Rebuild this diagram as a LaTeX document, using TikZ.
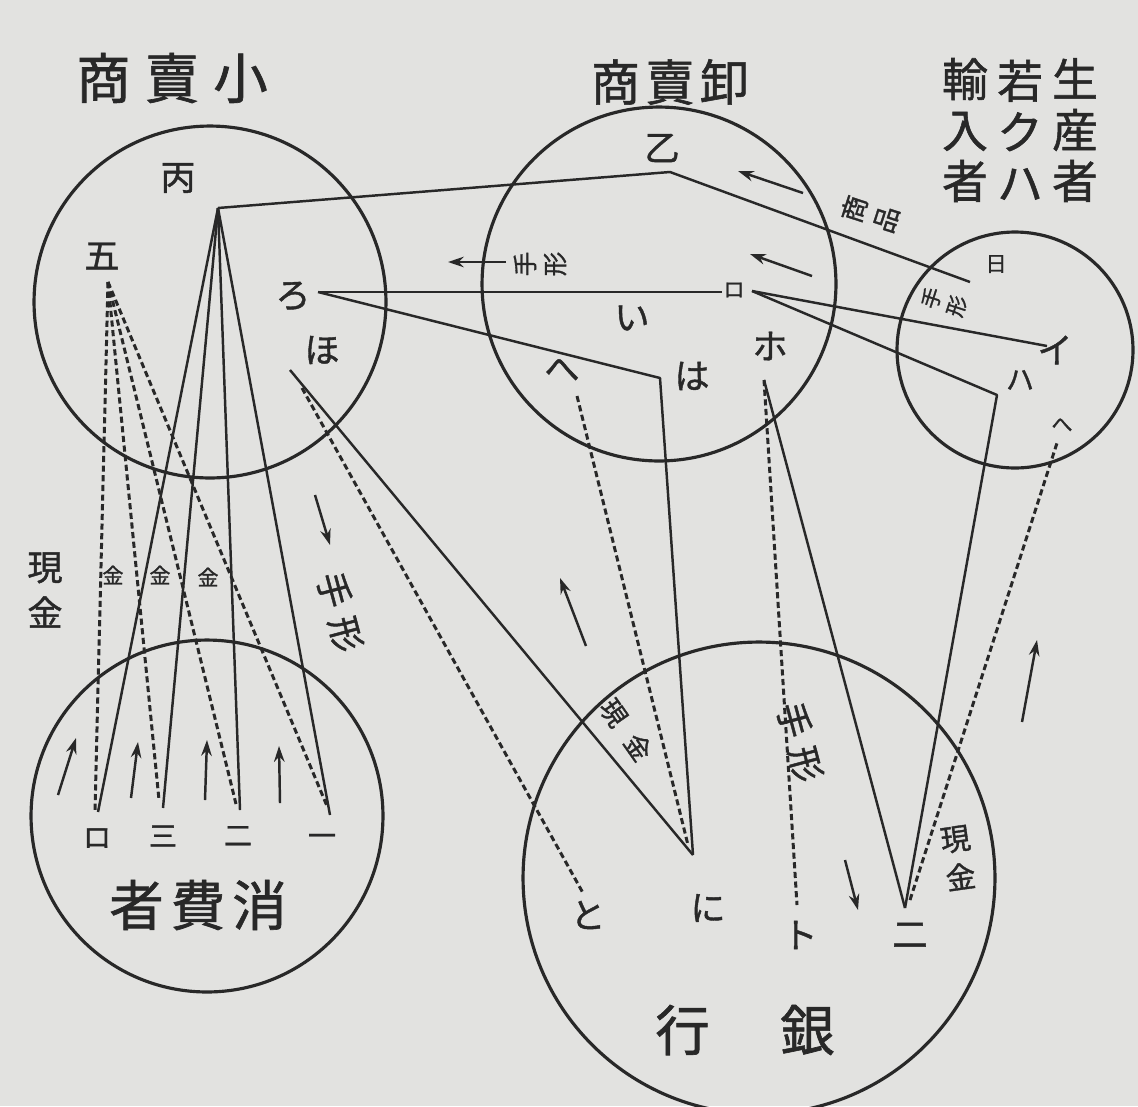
\documentclass[tikz,border=0pt]{standalone}
\usepackage{fontspec}
\newfontfamily\jp{Noto Sans CJK JP}[FakeBold=1.2]
\usetikzlibrary{arrows.meta}
\definecolor{ink}{RGB}{40,40,40}
\definecolor{paper}{RGB}{226,226,224}
\begin{document}
\begin{tikzpicture}[x=0.02cm,y=-0.02cm,
  ring/.style={draw=ink, line width=1.8pt, circle, inner sep=0pt},
  flow/.style={draw=ink, line width=1.4pt, line join=round},
  dotline/.style={draw=ink, line width=1.7pt, dash pattern=on 3.5pt off 2pt},
  arr/.style={draw=ink, line width=1.4pt, -{Stealth[length=9pt,width=6pt]}},
  title/.style={font=\jp\fontsize{31}{31}\selectfont, text=ink, inner sep=0pt},
  lbl/.style={font=\jp\fontsize{20}{20}\selectfont, text=ink, inner sep=0pt},
  smalllbl/.style={font=\jp\fontsize{12}{12}\selectfont, text=ink, inner sep=0pt},
  midlbl/.style={font=\jp\fontsize{16}{16}\selectfont, text=ink, inner sep=0pt},
]
\fill[paper] (0,0) rectangle (1138,1106);
\useasboundingbox (0,0) rectangle (1138,1106);

% circles
\node[ring, minimum size=7.04cm] (retail) at (210,302) {};
\node[ring, minimum size=7.08cm] (whole) at (659,284) {};
\node[ring, minimum size=4.72cm] (prod) at (1015,350) {};
\node[ring, minimum size=7.04cm] (cons) at (207,816) {};
\node[ring, minimum size=9.44cm] (bank) at (759,878) {};

% titles
\node[title] (t1) at (172,78) {商\hspace{8pt}賣\hspace{8pt}小};
\node[title, font=\jp\fontsize{28}{28}\selectfont] (t2) at (670,82) {商\hspace{3pt}賣\hspace{3pt}卸};
\node[title, font=\jp\fontsize{26}{29}\selectfont, align=center] (t3a) at (1075,130) {生\\産\\者};
\node[title, font=\jp\fontsize{26}{29}\selectfont, align=center] (t3b) at (1020,130) {若\\ク\\ハ};
\node[title, font=\jp\fontsize{26}{29}\selectfont, align=center] (t3c) at (965,130) {輸\\入\\者};
\node[title] (t4) at (198,905) {者\hspace{4pt}費\hspace{4pt}消};
\node[title] (t5) at (745,1030) {行\hspace{40pt}銀};

% letters in the circles
\node[lbl] (Lhei) at (178,178) {丙};
\node[lbl] (Lgo) at (102,256) {五};
\node[lbl] (Lro) at (293,296) {ろ};
\node[lbl] (Lho) at (322,350) {ほ};
\node[lbl] (Lotsu) at (662,148) {乙};
\node[lbl] (Li) at (632,318) {い};
\node[smalllbl] (LroB) at (734,290) {ロ};
\node[lbl] (LhoB) at (770,346) {ホ};
\node[lbl] (Lha) at (692,376) {は};
\node[lbl] (Lhe) at (562,370) {へ};
\node[smalllbl] (Lhi) at (996,264) {日};
\node[lbl] (Lia) at (1055,350) {イ};
\node[midlbl] (LhaC) at (1020,380) {ハ};
\node[smalllbl] (LheC) at (1062,425) {へ};
\node[midlbl] (Ld4) at (97,838) {ロ};
\node[midlbl] (Ld3) at (163,836) {三};
\node[midlbl] (Ld2) at (238,836) {二};
\node[midlbl] (Ld1) at (322,840) {一};
\node[lbl] (Lto) at (588,915) {と};
\node[lbl] (Lni) at (708,908) {に};
\node[lbl] (LtoK) at (800,935) {ト};
\node[lbl] (Lni2) at (910,935) {二};

% side labels
\node[lbl, align=center, font=\jp\fontsize{20}{26}\selectfont] (cashL) at (45,590) {現\\金};
\node[smalllbl] (k1) at (113,575) {金};
\node[smalllbl] (k2) at (160,575) {金};
\node[smalllbl] (k3) at (208,577) {金};
\node[lbl, rotate=-75] (billL) at (340,612) {手\hspace{6pt}形};
\node[lbl, rotate=-75] (billB) at (800,742) {手\hspace{6pt}形};
\node[midlbl, rotate=-55, font=\jp\fontsize{15}{15}\selectfont] (cashB) at (626,730) {現\hspace{9pt}金};
\node[midlbl, align=center, rotate=8, font=\jp\fontsize{17}{22}\selectfont] (cashR) at (958,858) {現\\金};
\node[smalllbl, align=center, rotate=90, font=\jp\fontsize{14}{17}\selectfont] (billW) at (540,264) {手\\形};
\node[smalllbl, align=center, rotate=72, font=\jp\fontsize{15}{19}\selectfont] (goods) at (870,214) {商\\品};
\node[smalllbl, align=center, rotate=72, font=\jp\fontsize{12}{15}\selectfont] (billP) at (944,302) {手\\形};

% anchor points
\coordinate (hei) at (218,208);
\coordinate (go) at (108,282);
\coordinate (ro) at (318,292);
\coordinate (hoS) at (290,370);
\coordinate (hoD) at (302,388);
\coordinate (otsu) at (670,172);
\coordinate (roB) at (722,292);
\coordinate (roBr) at (752,291);
\coordinate (ha) at (660,378);
\coordinate (he) at (577,396);
\coordinate (hoB) at (764,380);
\coordinate (hi) at (970,282);
\coordinate (iC) at (1047,346);
\coordinate (haC) at (997,395);
\coordinate (heC) at (1057,443);
\coordinate (d4) at (98,812);
\coordinate (d3) at (163,808);
\coordinate (d2) at (240,810);
\coordinate (d1) at (330,815);
\coordinate (e4) at (95,810);
\coordinate (e3) at (159,800);
\coordinate (e2) at (236,804);
\coordinate (e1) at (327,806);
\coordinate (to) at (583,893);
\coordinate (ni) at (693,855);
\coordinate (niD) at (688,845);
\coordinate (toK) at (797,905);
\coordinate (ni2) at (905,908);
\coordinate (ni2D) at (910,900);

% solid flows
\draw[flow] (hei) -- (otsu) -- (hi);
\draw[flow] (ro) -- (roB);
\draw[flow] (ro) -- (ha) -- (ni);
\draw[flow] (hoS) -- (ni);
\draw[flow] (roBr) -- (iC);
\draw[flow] (roBr) -- (haC) -- (ni2);
\draw[flow] (hoB) -- (ni2);
\foreach \e in {d4,d3,d2,d1} \draw[flow] (hei) -- (\e);

% dashed flows
\draw[dotline] (hoD) -- (to);
\draw[dotline] (he) -- (niD);
\draw[dotline] (hoB) -- (toK);
\draw[dotline] (ni2D) -- (heC);
\foreach \e in {e4,e3,e2,e1} \draw[dotline] (go) -- (\e);

% arrows
\coordinate (a1s) at (58,795); \coordinate (a1e) at (76,738);
\coordinate (a2s) at (131,798); \coordinate (a2e) at (138,742);
\coordinate (a3s) at (205,800); \coordinate (a3e) at (207,740);
\coordinate (a4s) at (280,803); \coordinate (a4e) at (279,746);
\coordinate (a5s) at (315,495); \coordinate (a5e) at (330,545);
\coordinate (a6s) at (803,193); \coordinate (a6e) at (738,171);
\coordinate (a7s) at (812,276); \coordinate (a7e) at (750,254);
\coordinate (a8s) at (506,262); \coordinate (a8e) at (448,262);
\coordinate (a9s) at (586,646); \coordinate (a9e) at (560,578);
\coordinate (a10s) at (1022,722); \coordinate (a10e) at (1037,640);
\coordinate (a11s) at (845,860); \coordinate (a11e) at (858,910);
\foreach \n in {1,...,11} \draw[arr] (a\n s) -- (a\n e);
\end{tikzpicture}
\end{document}
